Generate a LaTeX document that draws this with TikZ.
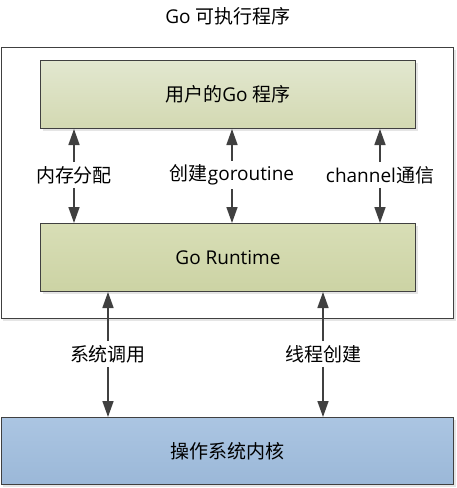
\documentclass[tikz,border=0pt]{standalone}
\usepackage{fontspec}
\setmainfont{Open Sans}
\newfontfamily\cjk{Noto Sans CJK SC}
\usetikzlibrary{arrows.meta}
\definecolor{edge}{HTML}{404040}
\definecolor{gtop}{HTML}{E2E7CF}
\definecolor{gbot}{HTML}{D3D9B2}
\definecolor{rtop}{HTML}{D8DEB6}
\definecolor{rbot}{HTML}{CCD3A4}
\definecolor{btop}{HTML}{ABC5E2}
\definecolor{bbot}{HTML}{9BB8D8}
\begin{document}
\begin{tikzpicture}[x=1pt,y=-1pt,
  txt/.style={font=\fontsize{19}{22}\selectfont, text=black},
  boxstyle/.style={draw=edge, line width=1pt, inner sep=0pt, txt},
  lab/.style={txt, fill=white, inner sep=4pt},
  arr/.style={draw=edge, line width=1.6pt, -{Triangle[width=11pt,length=16pt]}},
  shadow/.style={fill=black!10, draw=none}
]
\useasboundingbox (0,0) rectangle (457,488);
\fill[white] (0,0) rectangle (457,488);
% title
\node[txt] (title) at (228,16) {Go {\cjk 可执行程序}};
% outer box
\draw[shadow] (3,50) rectangle (456,321);
\node[draw=edge, line width=1pt, fill=white, minimum width=452pt, minimum height=271pt, inner sep=0pt, anchor=north west] (outer) at (1,47) {};
% shadows
\fill[shadow] (43,63) rectangle (418,131);
\fill[shadow] (43,226) rectangle (418,294);
\fill[shadow] (3,420) rectangle (456,487);
% boxes
\node[boxstyle, top color=gtop, bottom color=gbot, minimum width=375pt, minimum height=68pt, anchor=north west] (user) at (40,60) {};
\node[txt] at (user.center) {{\cjk 用户的}Go {\cjk 程序}};
\node[boxstyle, top color=rtop, bottom color=rbot, minimum width=375pt, minimum height=68pt, anchor=north west] (rt) at (40,223) {};
\node[txt] at (rt.center) {Go Runtime};
\node[boxstyle, top color=btop, bottom color=bbot, minimum width=452pt, minimum height=67pt, anchor=north west] (os) at (1,417) {};
\node[txt] at (os.center) {\cjk 操作系统内核};
% labels
\node[lab] (l1) at (74,175) {\cjk 内存分配};
\node[lab] (l2) at (232,175) {{\cjk 创建}goroutine};
\node[lab] (l3) at (380,175) {channel{\cjk 通信}};
\node[lab] (l4) at (108,354) {\cjk 系统调用};
\node[lab] (l5) at (323,354) {\cjk 线程创建};
% arrows
\foreach \l in {l1,l2,l3}{
  \draw[arr] (\l.north) -- (\l.north |- user.south);
  \draw[arr] (\l.south) -- (\l.south |- rt.north);
}
\foreach \l in {l4,l5}{
  \draw[arr] (\l.north) -- (\l.north |- rt.south);
  \draw[arr] (\l.south) -- (\l.south |- os.north);
}
\end{tikzpicture}
\end{document}
